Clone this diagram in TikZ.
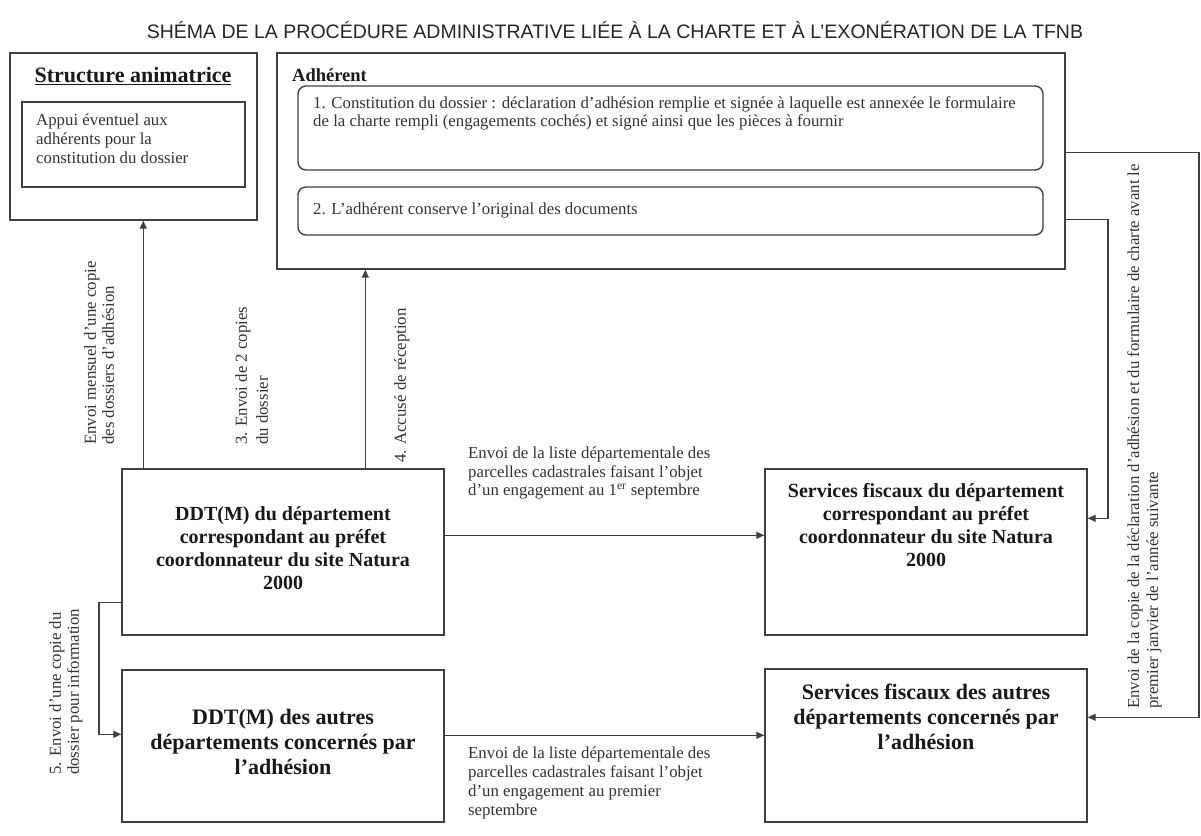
\documentclass[tikz,border=0pt]{standalone}
\usepackage{fontspec}
\setmainfont{Liberation Serif}
\newfontfamily\titlefont{Liberation Sans}
\usetikzlibrary{arrows.meta,fit}
\begin{document}
\begin{tikzpicture}[x=1pt,y=-1pt,
  box/.style={draw=black!75, line width=1.4pt, inner sep=0pt},
  rbox/.style={box, rounded corners=8pt},
  conn/.style={draw=black!75, line width=1.2pt},
  arr/.style={conn, -{Triangle[length=8pt,width=7pt]}},
  lbl/.style={font=\fontsize{16.8}{18}\selectfont, text=black!80, align=left, inner sep=0pt},
  bigb/.style={font=\fontsize{20}{23}\selectfont\bfseries, text=black!90, align=center, inner sep=0pt},
  bigc/.style={font=\fontsize{22}{25}\selectfont\bfseries, text=black!90, align=center, inner sep=0pt}
]
\useasboundingbox[fill=white] (0,0) rectangle (1201,835);

% title
\node[font=\titlefont\fontsize{19.5}{22}\selectfont, text=black!85, inner sep=0pt] (title) at (615,30)
  {SHÉMA DE LA PROCÉDURE ADMINISTRATIVE LIÉE À LA CHARTE ET À L’EXONÉRATION DE LA TFNB};

% Structure animatrice
\node[box, fit={(10,53)(257,220)}] (sa) {};
\node[font=\fontsize{22}{24}\selectfont\bfseries, text=black!90, inner sep=0pt] (satitle) at (133,76) {\underline{Structure animatrice}};
\node[box, fit={(22,102)(245,187)}] (sain) {};
\node[lbl, font=\fontsize{16.8}{19}\selectfont, anchor=north west] (saintext) at (36,114)
  {Appui éventuel aux\\adhérents pour la\\constitution du dossier};

% Adherent
\node[box, fit={(277,53)(1065,269)}] (ad) {};
\node[font=\fontsize{18.5}{22}\selectfont\bfseries, text=black!90, inner sep=0pt, anchor=west] (adtitle) at (292,75) {Adhérent};
\node[rbox, fit={(298,86)(1043,170)}] (ad1) {};
\node[lbl, anchor=north west] (ad1text) at (313,96)
  {1. Constitution du dossier : déclaration d’adhésion remplie et signée à laquelle est annexée le formulaire\\de la charte rempli (engagements cochés) et signé ainsi que les pièces à fournir};
\node[rbox, fit={(298,187)(1043,235)}] (ad2) {};
\node[lbl, anchor=west] (ad2text) at (313,210) {2. L’adhérent conserve l’original des documents};

% DDT boxes
\node[box, fit={(122,469)(444,635)}] (ddt) {};
\node[bigb] (ddttext) at (283,548) {DDT(M) du département\\correspondant au préfet\\coordonnateur du site Natura\\2000};
\node[box, fit={(122,670)(444,822)}] (ddt2) {};
\node[bigc] (ddt2text) at (283,742) {DDT(M) des autres\\départements concernés par\\l’adhésion};

% Services fiscaux
\node[box, fit={(765,469)(1087,635)}] (sf) {};
\node[bigb] (sftext) at (926,525) {Services fiscaux du département\\correspondant au préfet\\coordonnateur du site Natura\\2000};
\node[box, fit={(765,669)(1087,822)}] (sf2) {};
\node[bigc] (sf2text) at (926,717) {Services fiscaux des autres\\départements concernés par\\l’adhésion};

% connectors
\coordinate (a1) at ([xshift=22pt]ddt.north west);
\draw[arr] (a1) -- (a1 |- sa.south);
\coordinate (a2) at ([xshift=244pt]ddt.north west);
\draw[arr] (a2) -- (a2 |- ad.south);
\coordinate (a3) at ([yshift=-67pt]ddt.north east);
\draw[arr] (a3) -- (a3 -| sf.west);
\coordinate (a4) at ([yshift=-66pt]ddt2.north east);
\draw[arr] (a4) -- (a4 -| sf2.west);
\coordinate (a5) at ([yshift=33pt]ddt.south west);
\coordinate (a6) at ([yshift=-65pt]ddt2.north west);
\coordinate (lft) at (99,0);
\draw[arr] (a5) -- (a5 -| lft) |- (a6);

\coordinate (b1) at ([yshift=-100pt]ad.north east);
\coordinate (b2) at ([yshift=-49pt]sf2.north east);
\coordinate (rt) at (1199,0);
\draw[arr] (b1) -- (b1 -| rt) |- (b2);
\coordinate (b3) at ([yshift=-167pt]ad.north east);
\coordinate (b4) at ([yshift=-50pt]sf.north east);
\coordinate (rt2) at (1108,0);
\draw[arr] (b3) -- (b3 -| rt2) |- (b4);

% rotated labels
\node[lbl, rotate=90, anchor=north west] (l1) at (84,445) {Envoi mensuel d’une copie\\des dossiers d’adhésion};
\node[lbl, rotate=90, anchor=north west, font=\fontsize{16.8}{21}\selectfont] (l2) at (235,445) {3. Envoi de 2 copies\\du dossier};
\node[lbl, rotate=90, anchor=north west] (l3) at (394,463) {4. Accusé de réception};
\node[lbl, rotate=90, anchor=north west] (l5) at (49,775) {5. Envoi d’une copie du\\dossier pour information};
\node[lbl, rotate=90, anchor=north west, font=\fontsize{16.8}{19}\selectfont] (l6) at (1127,709) {Envoi de la copie de la déclaration d’adhésion et du formulaire de charte avant le\\premier janvier  de l’année suivante};

% horizontal labels
\node[lbl, font=\fontsize{16.8}{18.5}\selectfont, anchor=north west] (h1) at (468,447)
  {Envoi de la liste départementale des\\parcelles cadastrales faisant l’objet\\d’un engagement au 1\textsuperscript{er} septembre};
\node[lbl, font=\fontsize{16.8}{19}\selectfont, anchor=north west] (h2) at (468,747)
  {Envoi de la liste départementale des\\parcelles cadastrales faisant l’objet\\d’un engagement au premier\\septembre};
\end{tikzpicture}
\end{document}
